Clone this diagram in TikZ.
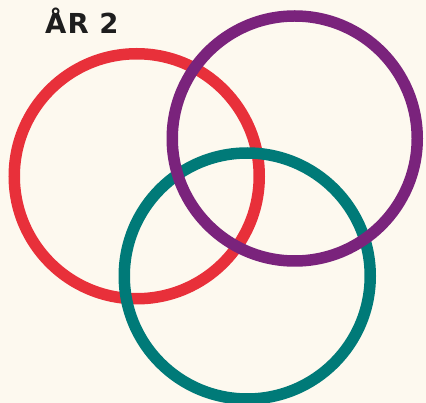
\documentclass[tikz,border=0pt]{standalone}
\usepackage{fontspec}
\newfontfamily\titlefont[LetterSpace=4]{DejaVu Sans}
\definecolor{bg}{HTML}{FDF9EF}
\definecolor{ringred}{HTML}{E8303A}
\definecolor{ringpurple}{HTML}{7A237C}
\definecolor{ringteal}{HTML}{007A78}
\definecolor{ink}{HTML}{1E1E1E}
\tikzset{
  ring/.style={line width=11.5pt},
  title/.style={font=\titlefont\bfseries\fontsize{27.5}{27.5}\selectfont, text=ink, inner sep=0pt}
}
\begin{document}
\begin{tikzpicture}[x=1pt,y=-1pt]
\useasboundingbox (0,0) rectangle (426,403);
\fill[bg] (0,0) rectangle (426,403);
\node[title, anchor=base west] (t) at (45,34) {ÅR 2};
\draw[ring, ringred] (136.75,176.25) circle (122.5);
\draw[ring, ringteal] (247.25,276) circle (123);
\draw[ring, ringpurple] (294.75,138.5) circle (122.5);
\end{tikzpicture}
\end{document}
